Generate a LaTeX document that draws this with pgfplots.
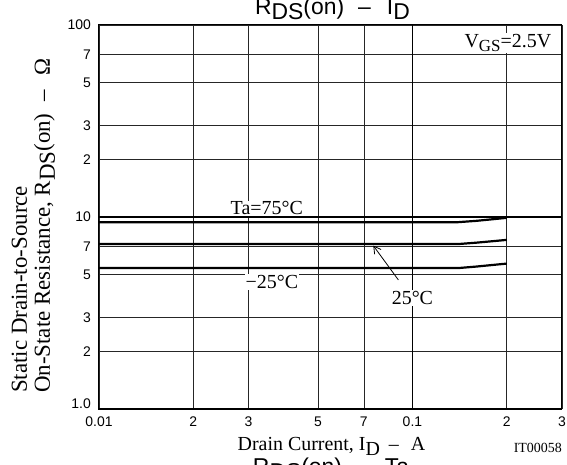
\documentclass[border=0pt]{standalone}
\usepackage{pgfplots}
\pgfplotsset{compat=1.18}
\usepackage{graphicx}
\usepackage{fontspec}
\setmainfont{Liberation Serif}
\setsansfont{Liberation Sans}
\usetikzlibrary{arrows.meta}
\newcommand\sub[1]{\raisebox{-0.45ex}{\scalebox{0.85}{#1}}}
\newcommand\lsub[1]{\raisebox{-5bp}{#1}}
\newcommand\serif{\rmfamily\fontsize{20}{22}\selectfont}
\begin{document}
\begin{tikzpicture}
\begin{axis}[name=ax, at={(0,0)}, anchor=south west,
  xmode=log, ymode=log, scale only axis, width=463bp, height=384bp,
  xmin=0.01, xmax=0.3, ymin=1, ymax=100,
  xtick={0.01,0.02,0.03,0.05,0.07,0.1,0.2,0.3},
  xticklabels={\raisebox{-3bp}{0.01},2,3,5,7,\raisebox{-3bp}{0.1},2,3},
  ytick={1,2,3,5,7,10,20,30,50,70,100},
  yticklabels={{},2,3,5,7,10,2,3,5,7,100},
  extra x ticks={0.1}, extra x tick labels={},
  extra y ticks={1,10}, extra y tick labels={1.0,{}},
  extra tick style={grid style={black, line width=1.3bp}, yticklabel style={yshift=5bp}},
  major tick length=0pt, minor tick length=0pt,
  xmajorgrids=true, ymajorgrids=true,
  grid style={black!85, line width=0.6bp},
  axis line style={black, line width=1bp},
  tick label style={font=\sffamily\fontsize{14}{16}\selectfont, black, inner sep=0pt},
  yticklabel style={xshift=-8bp},
  xticklabel style={yshift=-8bp},
  /pgf/number format/assume math mode=true,
  clip=false,
]
\addplot[black, line width=2.2bp] coordinates {(0.01,9.4) (0.14,9.4) (0.16,9.55) (0.2,9.9)};
\addplot[black, line width=2.2bp] coordinates {(0.01,7.23) (0.14,7.23) (0.16,7.35) (0.2,7.6)};
\addplot[black, line width=2.2bp] coordinates {(0.01,5.42) (0.14,5.42) (0.16,5.52) (0.2,5.72)};
\node[fill=white, inner sep=1bp, font=\serif] at (axis cs:0.0343,11.1) {Ta=75°C};
\node[fill=white, inner sep=1bp, font=\serif] at (axis cs:0.0356,4.59) {−25°C};
\node[fill=white, inner sep=1bp, font=\serif] at (axis cs:0.1,3.79) {25°C};
\draw[black, line width=0.8bp, -{Straight Barb[length=7bp,width=8bp]}] (axis cs:0.0902,4.7) -- (axis cs:0.075,7.1);
\node[fill=white, inner sep=1bp, font=\serif] at (axis cs:0.2016,80.5) {V\sub{GS}=2.5V};
\end{axis}
\node[anchor=base, font=\sffamily\fontsize{23}{25}\selectfont] at ([shift={(233.5bp,394bp)}]ax.south west) {R\lsub{DS}(on)\hspace{14bp}–\hspace{16bp}I\lsub{D}};
\node[anchor=base, font=\serif] at ([shift={(232.5bp,-41bp)}]ax.south west) {Drain Current, I\lsub{D}\hspace{9bp}–\hspace{12bp}A};
\node[anchor=base east, font=\rmfamily\fontsize{14}{16}\selectfont, inner sep=0pt] at ([shift={(0bp,-43bp)}]ax.south east) {IT00058};
\node[anchor=base, font=\sffamily\fontsize{23}{25}\selectfont] at ([shift={(232bp,-65.5bp)}]ax.south west) {R\lsub{DS}(on)\hspace{14bp}–\hspace{16bp}Ta};
\node[rotate=90, anchor=base west, font=\rmfamily\fontsize{23}{25}\selectfont, inner sep=0pt] at ([shift={(-72bp,16bp)}]ax.south west) {Static Drain-to-Source};
\node[rotate=90, anchor=base west, font=\rmfamily\fontsize{23}{25}\selectfont, inner sep=0pt] at ([shift={(-49bp,16bp)}]ax.south west) {On-State Resistance, R\lsub{DS}(on)\hspace{12bp}–\hspace{14bp}Ω};
\pgfresetboundingbox
\useasboundingbox ([shift={(-99bp,-56bp)}]ax.south west) rectangle ([shift={(5bp,25bp)}]ax.north east);
\end{tikzpicture}
\end{document}
